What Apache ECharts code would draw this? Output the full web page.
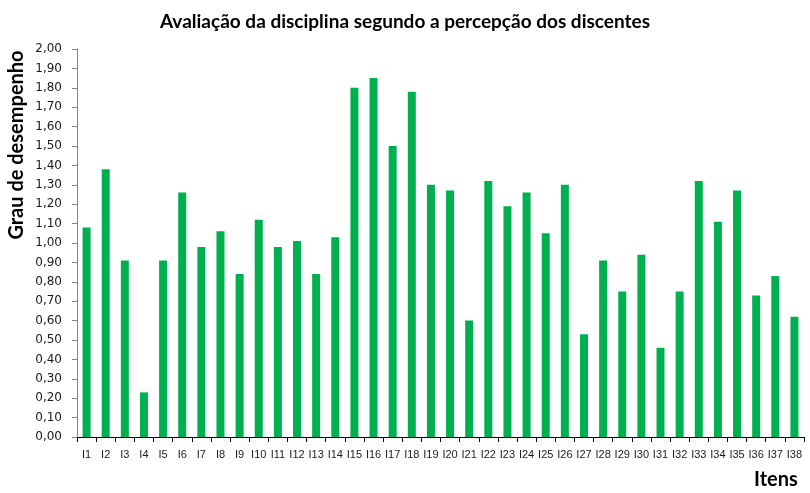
<!DOCTYPE html>
<html>
<head>
<meta charset="utf-8">
<script src="https://cdn.jsdelivr.net/npm/echarts@6/dist/echarts.min.js"></script>
<style>html,body{margin:0;padding:0;background:#fff}#c{width:810px;height:493px}</style>
</head>
<body>
<div id="c"></div>
<script>
const titleText = 'Avaliação da disciplina segundo a percepção dos discentes';
const yName = 'Grau de desempenho';
const xName = 'Itens';
const categories = ['I1','I2','I3','I4','I5','I6','I7','I8','I9','I10','I11','I12','I13','I14','I15','I16','I17','I18','I19','I20','I21','I22','I23','I24','I25','I26','I27','I28','I29','I30','I31','I32','I33','I34','I35','I36','I37','I38'];
const values = [1.08,1.38,0.91,0.23,0.91,1.26,0.98,1.06,0.84,1.12,0.98,1.01,0.84,1.03,1.80,1.85,1.50,1.78,1.30,1.27,0.60,1.32,1.19,1.26,1.05,1.30,0.53,0.91,0.75,0.94,0.46,0.75,1.32,1.11,1.27,0.73,0.83,0.62];

const chart = echarts.init(document.getElementById('c'), null, {renderer:'canvas'});
chart.setOption({
  animation:false,
  backgroundColor:'#ffffff',
  title:{
    text:titleText, left:'center', top:7,
    textStyle:{fontFamily:'Lato', fontWeight:'bold', fontSize:19, color:'#000'}
  },
  grid:{left:77, right:6, top:49, bottom:56, containLabel:false, outerBoundsMode:'none'},
  xAxis:{
    type:'category', data:categories,
    axisLine:{lineStyle:{color:'#000', width:1}},
    axisTick:{show:true, length:5, lineStyle:{color:'#000'}},
    axisLabel:{interval:0, margin:12, fontFamily:'Liberation Sans', fontSize:11, color:'#1a1a1a'}
  },
  yAxis:{
    type:'value', min:0, max:2, interval:0.1,
    axisLine:{show:true, lineStyle:{color:'#868686'}},
    axisTick:{show:true, length:5, lineStyle:{color:'#868686'}},
    splitLine:{show:false},
    axisLabel:{margin:15, fontFamily:'DejaVu Sans', fontSize:12, color:'#1a1a1a',
      formatter:function(v){return v.toFixed(2).replace('.',',');}}
  },
  series:[{
    type:'bar', data:values, barWidth:8,
    itemStyle:{color:'#00B050'}
  }],
  graphic:[{
    type:'text', left:754, top:470,
    style:{text:xName, fontFamily:'Lato', fontWeight:'bold', fontSize:20, fill:'#000'}
  },{
    type:'text', x:17, y:145, rotation:Math.PI/2,
    style:{text:yName, fontFamily:'Lato', fontWeight:'bold', fontSize:20, fill:'#000', align:'center', verticalAlign:'middle'}
  }]
});
</script>
</body>
</html>
